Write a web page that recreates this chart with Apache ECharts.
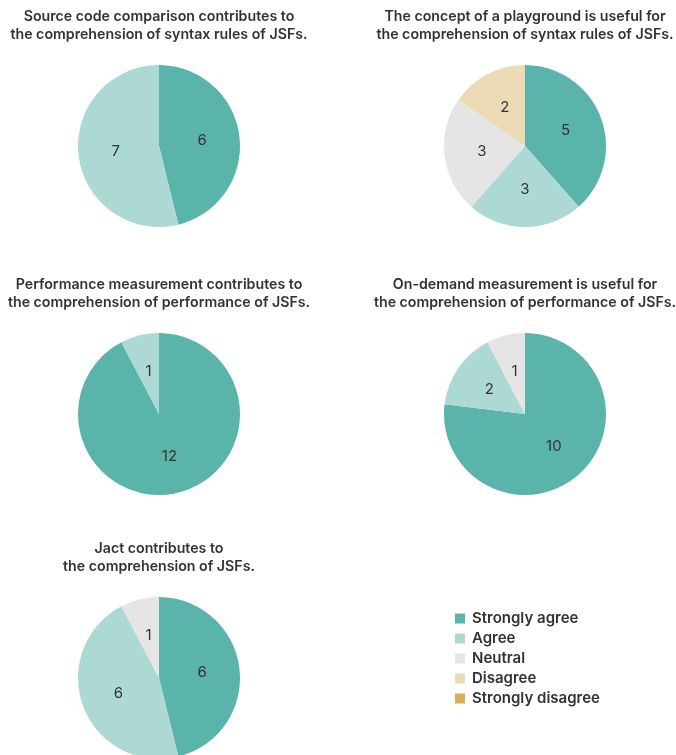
<!DOCTYPE html>
<html>
<head>
<meta charset="utf-8">
<script src="https://cdn.jsdelivr.net/npm/echarts@6/dist/echarts.min.js"></script>
<style>
  html, body { margin: 0; padding: 0; background: #fff; }
  #main { width: 676px; height: 755px; }
</style>
</head>
<body>
<div id="main"></div>
<script>
	// answer categories, in clockwise order from 12 o'clock
	var categories = ['Strongly agree', 'Agree', 'Neutral', 'Disagree', 'Strongly disagree'];
	var colors = ['#5ab4a9', '#acd9d4', '#e5e5e5', '#ebdab3', '#d8ae5e'];

	var titles = [
	    'Source code comparison contributes to\nthe comprehension of syntax rules of JSFs.',
	    'The concept of a playground is useful for\nthe comprehension of syntax rules of JSFs.',
	    'Performance measurement contributes to\nthe comprehension of performance of JSFs.',
	    'On-demand measurement is useful for\nthe comprehension of performance of JSFs.',
	    'Jact contributes to\nthe comprehension of JSFs.'
	];

	// answers per question, same order as categories
	var sourceCodeVals  = [6, 7, 0, 0, 0];
	var playgroundVals  = [5, 3, 3, 2, 0];
	var perfMeasureVals = [12, 1, 0, 0, 0];
	var onDemandVals    = [10, 2, 1, 0, 0];
	var jactVals        = [6, 6, 1, 0, 0];

	var allVals = [sourceCodeVals, playgroundVals, perfMeasureVals, onDemandVals, jactVals];

	// layout of each pie [cx, cy]
	var centers = [[159, 146], [525, 146], [159, 414], [525, 414], [159, 678]];
	var radius = 81;
	var font = 'Inter';

	var chart = echarts.init(document.getElementById('main'));

	var titleList = [], seriesList = [];
	for (var i = 0; i < allVals.length; i++) {
	    titleList.push({
	        text: titles[i],
	        left: centers[i][0],
	        top: centers[i][1] - 143,
	        textAlign: 'center',
	        padding: [5, 0, 5, 0],
	        textStyle: {
	            color: '#333',
	            fontFamily: font,
	            fontSize: 14.2,
	            fontWeight: 600,
	            lineHeight: 18
	        }
	    });
	    seriesList.push({
	        name: titles[i],
	        type: 'pie',
	        radius: radius,
	        center: centers[i],
	        startAngle: 90,
	        clockwise: true,
	        animation: false,
	        silent: true,
	        itemStyle: {borderWidth: 0},
	        label: {
	            position: 'inside',
	            color: '#333',
	            fontFamily: font,
	            fontSize: 15,
	            formatter: function (p) { return p.value ? String(p.value) : ''; }
	        },
	        labelLine: {show: false},
	        data: categories.map(function (c, k) {
	            return {name: c, value: allVals[i][k], itemStyle: {color: colors[k]}};
	        })
	    });
	}

	var option = {
	    title: titleList,
	    legend: {
	        data: categories,
	        orient: 'vertical',
	        left: 455,
	        top: 611,
	        padding: 0,
	        icon: 'rect',
	        itemWidth: 10,
	        itemHeight: 10,
	        itemGap: 5,
	        selectedMode: false,
	        textStyle: {
	            color: '#333',
	            fontFamily: font,
	            fontSize: 15,
	            fontWeight: 600,
	            padding: [0, 0, 0, 2]
	        }
	    },
	    series: seriesList
	};
	chart.setOption(option);
</script>
</body>
</html>
